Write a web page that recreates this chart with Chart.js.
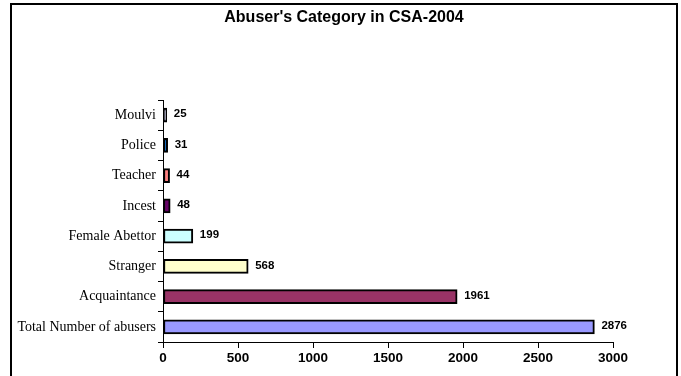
<!DOCTYPE html>
<html>
<head>
<meta charset="utf-8">
<script src="https://cdn.jsdelivr.net/npm/chart.js@4/dist/chart.umd.min.js"></script>
<style>
  html, body { margin: 0; padding: 0; background: #fff; overflow: hidden; }
  .frame {
    position: absolute; left: 10px; top: 3px; width: 664px; height: 400px;
    border: 2px solid #000;
  }
  .wrap { position: absolute; left: 0; top: 0; width: 681px; height: 376px; }
</style>
</head>
<body>
<div class="frame"></div>
<div class="wrap"><canvas id="chart" width="681" height="376"></canvas></div>
<script>
// categories, top to bottom
const categories = ['Moulvi', 'Police', 'Teacher', 'Incest', 'Female Abettor', 'Stranger', 'Acquaintance', 'Total Number of abusers'];
const abusers = [25, 31, 44, 48, 199, 568, 1961, 2876];
const barColors = ['#bcbce4', '#0066cc', '#ff8080', '#660066', '#ccffff', '#ffffcc', '#993366', '#9999ff'];
const xTicks = [0, 500, 1000, 1500, 2000, 2500, 3000];
const chartTitle = "Abuser's Category in CSA-2004";

/* value labels right of each bar */
const valueLabels = {
  id: 'valueLabels',
  afterDatasetsDraw: function (chart) {
    const ctx = chart.ctx;
    const meta = chart.getDatasetMeta(0);
    ctx.save();
    ctx.font = 'bold 11.5px "Liberation Sans", Arial, sans-serif';
    ctx.fillStyle = '#000';
    ctx.textAlign = 'left';
    ctx.textBaseline = 'middle';
    meta.data.forEach(function (bar, i) {
      ctx.fillText(String(abusers[i]), bar.x + 7, bar.y - 1);
    });
    ctx.restore();
  }
};

/* title sits a bit right of the canvas centre in the original */
const offsetTitle = {
  id: 'offsetTitle',
  afterDraw: function (chart) {
    const ctx = chart.ctx;
    ctx.save();
    ctx.font = 'bold 16px "Liberation Sans", Arial, sans-serif';
    ctx.fillStyle = '#000';
    ctx.textAlign = 'center';
    ctx.textBaseline = 'middle';
    ctx.fillText(chartTitle, 344, 18);
    ctx.restore();
  }
};

new Chart(document.getElementById('chart').getContext('2d'), {
  type: 'bar',
  data: {
    labels: categories,
    datasets: [{
      data: abusers,
      backgroundColor: barColors,
      borderColor: '#000',
      borderWidth: 2,
      borderSkipped: false,
      barThickness: 14,
    }],
  },
  options: {
    indexAxis: 'y',
    responsive: false,
    animation: false,
    layout: { padding: { left: 0, right: 68, top: 100, bottom: 0 } },
    plugins: {
      legend: { display: false },
      tooltip: { enabled: false },
      title: { display: false },
    },
    scales: {
      x: {
        min: 0,
        max: 3000,
        afterBuildTicks: function (scale) {
          scale.ticks = xTicks.map(function (v) { return { value: v }; });
        },
        afterFit: function (scale) { scale.height = 34; },
        grid: { drawOnChartArea: false, color: '#000', tickLength: 6, tickWidth: 1 },
        border: { color: '#000', width: 1 },
        ticks: {
          color: '#000',
          padding: 2,
          callback: function (v) { return String(v); },
          font: { family: '"Liberation Sans", Arial, sans-serif', size: 13.5, weight: 'bold' },
        },
      },
      y: {
        afterFit: function (scale) { scale.width = 163; },
        grid: { drawOnChartArea: false, color: '#000', tickLength: 5, tickWidth: 1, offset: true },
        border: { color: '#000', width: 1 },
        ticks: {
          color: '#000',
          padding: 2,
          font: { family: '"Liberation Serif", "Times New Roman", serif', size: 14 },
        },
      },
    },
  },
  plugins: [valueLabels, offsetTitle],
});
</script>
</body>
</html>
